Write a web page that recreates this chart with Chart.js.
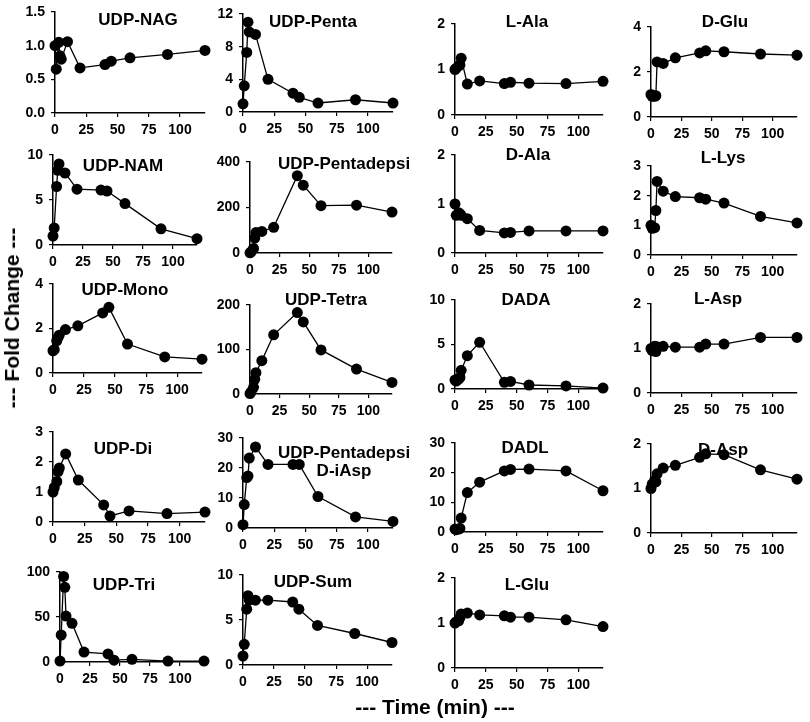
<!DOCTYPE html>
<html>
<head>
<meta charset="utf-8">
<script src="https://cdn.jsdelivr.net/npm/chart.js@4.4.1/dist/chart.umd.min.js"></script>
<style>
  body { margin: 0; background: #fff; width: 810px; height: 722px; position: relative; overflow: hidden;
         font-family: "Liberation Sans", Arial, sans-serif; }
  canvas { position: absolute; }
  .axt { position: absolute; font-weight: bold; font-size: 21px; white-space: nowrap; color: #000; }
  #xt { left: 435px; top: 707px; transform: translate(-50%, -50%); }
  #yt { left: 12px; top: 318px; transform: translate(-50%, -50%) rotate(-90deg); }
</style>
</head>
<body>
<div id="wrap"></div>
<div class="axt" id="xt">--- Time (min) ---</div>
<div class="axt" id="yt">--- Fold Change ---</div>
<script>
// sampling times (min) and x tick labels
const times = [0, 1, 3, 4, 5, 10, 20, 40, 45, 60, 90, 120];
const xTicks = [0, 25, 50, 75, 100];

// fold change per metabolite, one value per time point
const udpNag = [1.0, 0.65, 1.05, 0.85, 0.8, 1.06, 0.67, 0.72, 0.77, 0.82, 0.87, 0.93];
const udpPenta = [1.0, 3.2, 7.3, 11.0, 9.8, 9.5, 4.0, 2.3, 1.8, 1.1, 1.5, 1.1];
const lAla = [1.0, 1.03, 1.08, 1.1, 1.25, 0.68, 0.75, 0.69, 0.72, 0.7, 0.69, 0.74];
const dGlu = [1.0, 0.92, 0.92, 0.95, 2.45, 2.38, 2.63, 2.85, 2.94, 2.9, 2.8, 2.75];
const udpNam = [1.0, 1.9, 6.5, 8.3, 9.0, 8.0, 6.2, 6.1, 6.0, 4.6, 1.8, 0.7];
const udpPentadepsi = [1, 5, 20, 65, 90, 95, 113, 340, 298, 208, 210, 180];
const dAla = [1.0, 0.77, 0.82, 0.8, 0.77, 0.7, 0.46, 0.41, 0.42, 0.45, 0.45, 0.45];
const lLys = [1.0, 0.9, 0.92, 1.5, 2.48, 2.15, 1.97, 1.93, 1.88, 1.75, 1.3, 1.08];
const udpMono = [1.0, 1.05, 1.45, 1.6, 1.7, 1.95, 2.12, 2.7, 2.95, 1.3, 0.72, 0.62];
const udpTetra = [1, 5, 15, 33, 48, 75, 133, 183, 162, 99, 56, 26];
const dada = [1.0, 0.9, 1.1, 1.3, 2.1, 3.75, 5.25, 0.75, 0.85, 0.45, 0.35, 0.1];
const lAsp = [1.0, 0.95, 1.05, 0.93, 1.04, 1.05, 1.03, 1.03, 1.1, 1.1, 1.25, 1.25];
const udpDi = [1.0, 1.15, 1.35, 1.68, 1.8, 2.27, 1.4, 0.57, 0.2, 0.37, 0.28, 0.33];
const udpDiAsp = [1.1, 7.8, 16.8, 17.3, 23.3, 27, 21.2, 21.2, 21.2, 10.5, 3.7, 2.2];
const dadl = [1.0, 0.8, 1.0, 1.2, 4.7, 13.3, 16.8, 20.6, 21.1, 21.2, 20.6, 13.9];
const dAsp = [1.0, 1.1, 1.18, 1.15, 1.33, 1.46, 1.52, 1.7, 1.78, 1.76, 1.42, 1.21];
const udpTri = [1, 30, 95, 83, 51, 43, 11, 9, 2, 3, 1, 1];
const udpSum = [1.0, 2.3, 6.2, 7.7, 7.2, 7.2, 7.2, 7.0, 6.2, 4.4, 3.5, 2.5];
const lGlu = [1.0, 1.03, 1.05, 1.12, 1.2, 1.22, 1.18, 1.16, 1.13, 1.13, 1.07, 0.92];

// panel: name lines, data, y max, y step, plot box on the page (l, r, t, b), title centre
const panels = [
  { name: ["UDP-NAG"], data: udpNag, max: 1.5, step: 0.5, dec: 1, box: [55, 205, 12, 113], tx: 138, ty: 20 },
  { name: ["UDP-Penta"], data: udpPenta, max: 12, step: 4, box: [243, 393, 14, 112], tx: 313, ty: 22 },
  { name: ["L-Ala"], data: lAla, max: 2, step: 1, box: [455, 603, 24, 115], tx: 527, ty: 22 },
  { name: ["D-Glu"], data: dGlu, max: 4, step: 2, box: [651, 797, 27, 117], tx: 725, ty: 22 },

  { name: ["UDP-NAM"], data: udpNam, max: 10, step: 5, box: [53, 197, 155, 245], tx: 123, ty: 166 },
  { name: ["UDP-Pentadepsi"], data: udpPentadepsi, max: 400, step: 200, box: [250, 392, 162, 253], tx: 344, ty: 164 },
  { name: ["D-Ala"], data: dAla, max: 2, step: 1, box: [455, 603, 155, 253], tx: 528, ty: 155 },
  { name: ["L-Lys"], data: lLys, max: 3, step: 1, box: [651, 797, 166, 255], tx: 723, ty: 158 },

  { name: ["UDP-Mono"], data: udpMono, max: 4, step: 2, box: [53, 202, 284, 373], tx: 125, ty: 290 },
  { name: ["UDP-Tetra"], data: udpTetra, max: 200, step: 100, box: [250, 392, 305, 394], tx: 326, ty: 300 },
  { name: ["DADA"], data: dada, max: 10, step: 5, box: [455, 603, 300, 389], tx: 526, ty: 300 },
  { name: ["L-Asp"], data: lAsp, max: 2, step: 1, box: [651, 797, 304, 393], tx: 718, ty: 299 },

  { name: ["UDP-Di"], data: udpDi, max: 3, step: 1, box: [53, 205, 432, 522], tx: 123, ty: 449 },
  { name: ["UDP-Pentadepsi", "D-iAsp"], data: udpDiAsp, max: 30, step: 10, box: [243, 393, 438, 528], tx: 344, ty: 453 },
  { name: ["DADL"], data: dadl, max: 30, step: 10, box: [455, 603, 443, 532], tx: 525, ty: 448 },
  { name: ["D-Asp"], data: dAsp, max: 2, step: 1, box: [651, 797, 444, 533], tx: 723, ty: 450 },

  { name: ["UDP-Tri"], data: udpTri, max: 100, step: 50, box: [60, 204, 572, 662], tx: 124, ty: 585 },
  { name: ["UDP-Sum"], data: udpSum, max: 10, step: 5, box: [243, 392, 575, 665], tx: 313, ty: 582 },
  { name: ["L-Glu"], data: lGlu, max: 2, step: 1, box: [455, 603, 578, 668], tx: 527, ty: 585 },
];

const Y_W = 44, X_H = 28, PAD_L = 2, PAD_R = 22, PAD_T = 22, PAD_B = 2;
const tickFont = { family: "'Liberation Sans', Arial, sans-serif", size: 14, weight: "bold" };
const wrap = document.getElementById("wrap");

panels.forEach((p) => {
  const [l, r, t, b] = p.box;
  const cx = l - Y_W - PAD_L;
  const cy = t - PAD_T;
  const w = r - l + Y_W + PAD_L + PAD_R;
  const h = b - t + PAD_T + X_H + PAD_B;

  const cv = document.createElement("canvas");
  cv.width = w;
  cv.height = h;
  cv.style.left = cx + "px";
  cv.style.top = cy + "px";
  cv.style.width = w + "px";
  cv.style.height = h + "px";
  wrap.appendChild(cv);

  // panel name drawn inside the plot
  const nameLabel = {
    id: "nameLabel",
    afterDraw(chart) {
      const ctx = chart.ctx;
      ctx.save();
      ctx.font = "bold 17px 'Liberation Sans', Arial, sans-serif";
      ctx.fillStyle = "#000";
      ctx.textAlign = "center";
      ctx.textBaseline = "middle";
      p.name.forEach((line, i) => ctx.fillText(line, p.tx - cx, p.ty - cy + i * 18));
      ctx.restore();
    },
  };

  new Chart(cv, {
    type: "line",
    data: {
      datasets: [{
        data: times.map((tm, i) => ({ x: tm, y: p.data[i] })),
        borderColor: "#000",
        borderWidth: 1.3,
        pointRadius: 5.5,
        pointBackgroundColor: "#000",
        pointBorderWidth: 0,
        tension: 0,
        clip: 8,
      }],
    },
    options: {
      responsive: false,
      animation: false,
      devicePixelRatio: 1,
      layout: { padding: { left: PAD_L, right: PAD_R, top: PAD_T, bottom: PAD_B } },
      plugins: { legend: { display: false }, tooltip: { enabled: false } },
      scales: {
        x: {
          type: "linear",
          min: 0,
          max: 120,
          afterBuildTicks: (s) => { s.ticks = xTicks.map((v) => ({ value: v })); },
          afterFit: (s) => { s.height = X_H; },
          ticks: { font: tickFont, color: "#000", maxRotation: 0, autoSkip: false, padding: 5 },
          grid: { drawOnChartArea: false, drawTicks: true, tickLength: 4, color: "#000", lineWidth: 1.2 },
          border: { color: "#000", width: 1.5 },
        },
        y: {
          min: 0,
          max: p.max,
          afterFit: (s) => { s.width = Y_W; },
          ticks: {
            stepSize: p.step,
            font: tickFont,
            color: "#000",
            padding: 6,
            callback: (v) => (p.dec ? v.toFixed(p.dec) : v),
          },
          grid: { drawOnChartArea: false, drawTicks: true, tickLength: 4, color: "#000", lineWidth: 1.2 },
          border: { color: "#000", width: 1.5 },
        },
      },
    },
    plugins: [nameLabel],
  });
});
</script>
</body>
</html>
